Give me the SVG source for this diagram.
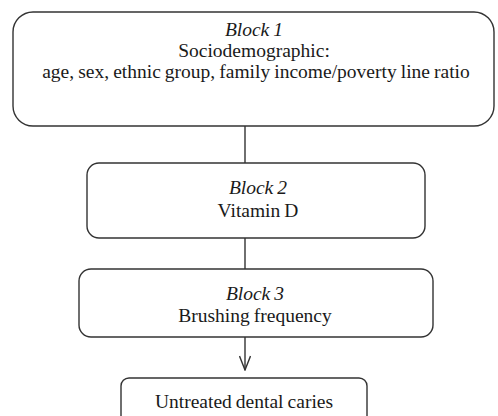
<svg xmlns="http://www.w3.org/2000/svg" width="498" height="416" viewBox="0 0 498 416">
<style>
.box{fill:#fff;stroke:#333;stroke-width:1.4}
.t{font-family:"Liberation Serif","Times New Roman",serif;font-size:19.5px;fill:#1a1a1a;text-anchor:middle;word-spacing:-0.8px}
.i{font-style:italic}
.c{stroke:#333;stroke-width:1.4;fill:none}
</style>
<defs>
<marker id="arr" viewBox="0 0 16 12" refX="15" refY="6" markerWidth="16" markerHeight="12" markerUnits="userSpaceOnUse" orient="auto">
<path d="M1,0.5 L15,6 L1,11.5" fill="none" stroke="#333" stroke-width="1.4"/>
</marker>
</defs>
<rect width="498" height="416" fill="#fff"/>
<g id="connectors">
<line class="c" x1="245" y1="126" x2="245" y2="163"/>
<line class="c" x1="245" y1="238" x2="245" y2="269"/>
<line class="c" x1="245" y1="337" x2="245" y2="370" marker-end="url(#arr)"/>
</g>
<g id="block1">
<rect class="box" x="13" y="12" width="481" height="114" rx="20"/>
<text class="t i" x="254" y="36">Block 1</text>
<text class="t" x="254" y="57">Sociodemographic:</text>
<text class="t" x="256" y="78">age, sex, ethnic group, family income/poverty line ratio</text>
</g>
<g id="block2">
<rect class="box" x="87" y="163" width="338" height="75" rx="12"/>
<text class="t i" x="258" y="194">Block 2</text>
<text class="t" x="258" y="217">Vitamin D</text>
</g>
<g id="block3">
<rect class="box" x="79" y="269" width="354" height="68" rx="12"/>
<text class="t i" x="255" y="300">Block 3</text>
<text class="t" x="255" y="322">Brushing frequency</text>
</g>
<g id="outcome">
<rect class="box" x="121" y="378" width="246" height="60" rx="8"/>
<text class="t" x="244" y="408">Untreated dental caries</text>
</g>
</svg>
